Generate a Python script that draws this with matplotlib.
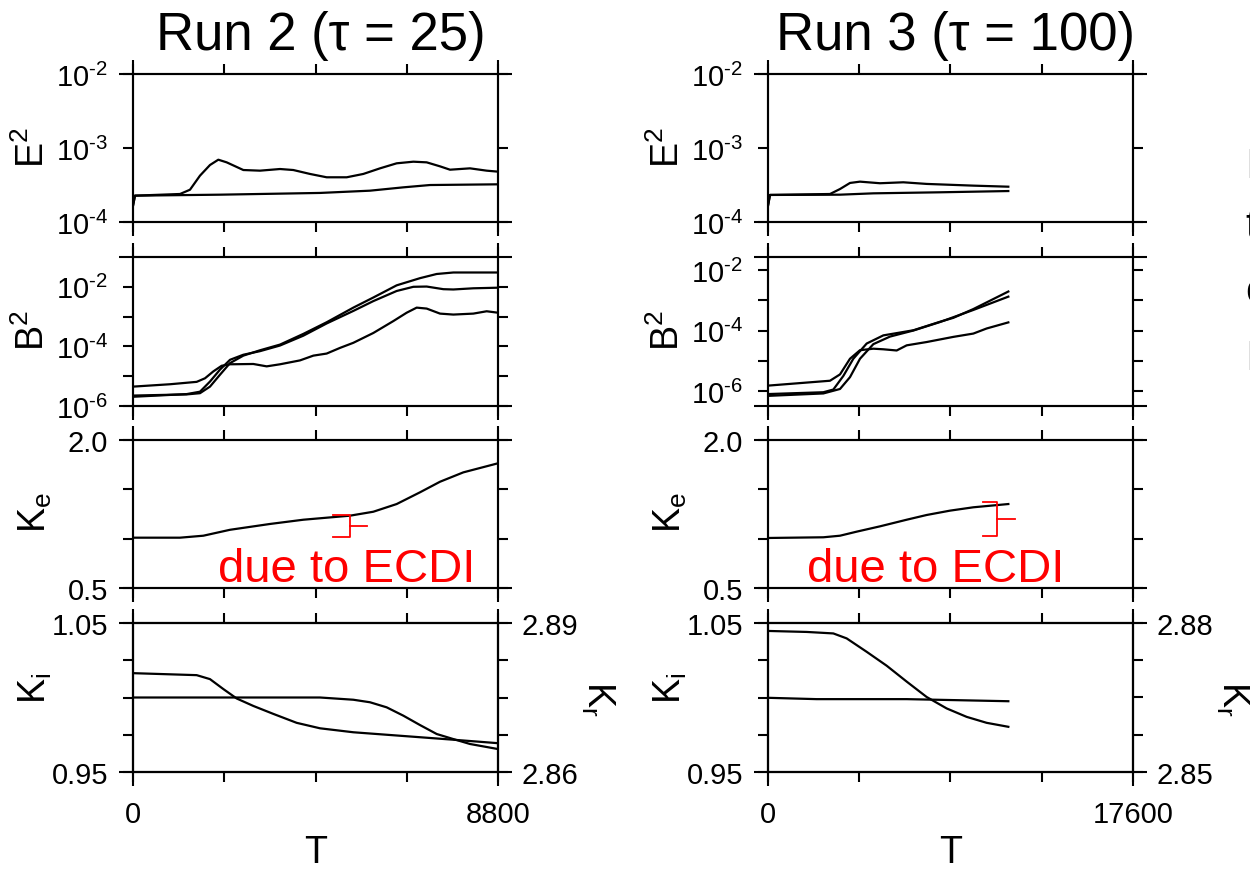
import matplotlib
matplotlib.use('Agg')
import matplotlib.pyplot as plt
from matplotlib.ticker import NullLocator

plt.rcParams['font.family'] = ['Liberation Sans', 'DejaVu Sans']
plt.rcParams['mathtext.fontset'] = 'custom'
plt.rcParams['mathtext.rm'] = 'Liberation Sans'
plt.rcParams['mathtext.it'] = 'Liberation Sans:italic'
plt.rcParams['mathtext.bf'] = 'Liberation Sans:bold'

# ---------------- data ----------------
titles = ['Run 2 (τ = 25)', 'Run 3 (τ = 100)']
t_max = [8800, 17600]
x_ticks = [[0, 2200, 4400, 6600, 8800], [0, 4400, 8800, 13200, 17600]]
x_ticklabels = [['0', '', '', '', '8800'], ['0', '', '', '', '17600']]

e2_ticks = [1e-4, 1e-3, 1e-2]
e2_ticklabels = [r'$\mathregular{10^{\text{-}4}}$', r'$\mathregular{10^{\text{-}3}}$',
                 r'$\mathregular{10^{\text{-}2}}$']
b2_ticks = [1e-6, 1e-5, 1e-4, 1e-3, 1e-2]
b2_ticklabels = [r'$\mathregular{10^{\text{-}6}}$', '', r'$\mathregular{10^{\text{-}4}}$', '',
                 r'$\mathregular{10^{\text{-}2}}$']
b2_limits = [(1e-6, 1e-1), (3.2e-7, 2.7e-2)]
ke_ticks = [0.5, 1.0, 1.5, 2.0]
ke_ticklabels = ['0.5', '', '', '2.0']
ki_ticks = [0.95, 0.975, 1.0, 1.025, 1.05]
ki_ticklabels = ['0.95', '', '', '', '1.05']
kr_limits = [(2.86, 2.89), (2.85, 2.88)]
kr_ticks = [[2.86, 2.8675, 2.875, 2.8825, 2.89], [2.85, 2.8575, 2.865, 2.8725, 2.88]]
kr_ticklabels = [['2.86', '', '', '', '2.89'], ['2.85', '', '', '', '2.88']]

# Run 2 : E^2
r2_e2a_t = [0, 48, 1133, 1374, 1615, 1856, 2057, 2258, 2660, 3062, 3544, 3865, 4267, 4669,
            5152, 5553, 5955, 6357, 6759, 7080, 7402, 7643, 8125, 8527, 8800]
r2_e2a_v = [1.66e-4, 2.27e-4, 2.39e-4, 2.73e-4, 4.23e-4, 5.89e-4, 6.95e-4, 6.40e-4, 5.04e-4,
            4.94e-4, 5.20e-4, 5.04e-4, 4.46e-4, 4.02e-4, 4.02e-4, 4.46e-4, 5.31e-4, 6.21e-4,
            6.53e-4, 6.40e-4, 5.65e-4, 5.09e-4, 5.31e-4, 4.94e-4, 4.79e-4]
r2_e2b_t = [0, 48, 2097, 4508, 5714, 6517, 7161, 8800]
r2_e2b_v = [1.66e-4, 2.27e-4, 2.34e-4, 2.47e-4, 2.65e-4, 2.94e-4, 3.16e-4, 3.23e-4]

# Run 2 : B^2
r2_b2a_t = [0, 892, 1535, 1736, 1937, 2138, 2339, 2901, 3223, 3544, 4026, 4348, 4669, 4991,
            5312, 5794, 6277, 6598, 6839, 7080, 7402, 7723, 8205, 8527, 8800]
r2_b2a_v = [4.47e-6, 5.37e-6, 6.46e-6, 8.51e-6, 1.45e-5, 2.24e-5, 2.51e-5, 2.57e-5, 2.14e-5,
            2.51e-5, 3.39e-5, 4.90e-5, 5.75e-5, 8.91e-5, 1.32e-4, 2.82e-4, 7.08e-4, 1.35e-3,
            2.00e-3, 1.86e-3, 1.26e-3, 1.17e-3, 1.26e-3, 1.51e-3, 1.35e-3]
r2_b2b_t = [0, 1294, 1615, 1856, 2097, 2339, 2660, 3062, 3544, 4107, 4669, 5312, 5794, 6357,
            6759, 7080, 7482, 7723, 8205, 8800]
r2_b2b_v = [2.04e-6, 2.51e-6, 3.02e-6, 6.61e-6, 1.66e-5, 3.55e-5, 5.25e-5, 6.92e-5, 1.07e-4,
            2.29e-4, 5.89e-4, 1.55e-3, 3.31e-3, 7.24e-3, 1.00e-2, 1.02e-2, 8.32e-3, 8.13e-3,
            8.91e-3, 9.33e-3]
r2_b2c_t = [0, 1294, 1615, 1856, 2097, 2339, 2660, 3062, 3544, 4107, 4669, 5312, 5794, 6357,
            6920, 7321, 7723, 8800]
r2_b2c_v = [2.24e-6, 2.45e-6, 2.69e-6, 4.47e-6, 1.12e-5, 2.75e-5, 4.90e-5, 7.41e-5, 1.15e-4,
            2.63e-4, 6.46e-4, 2.00e-3, 4.37e-3, 1.12e-2, 1.95e-2, 2.69e-2, 3.02e-2, 3.02e-2]

# Run 2 : Ke, Ki, Kr
r2_ke_t = [0, 1133, 1696, 2339, 3303, 4106, 5232, 5794, 6357, 6920, 7402, 7964, 8800]
r2_ke_v = [1.01, 1.01, 1.03, 1.09, 1.149, 1.192, 1.233, 1.273, 1.351, 1.47, 1.577, 1.672, 1.764]
r2_ki_t = [0, 4508, 5312, 5714, 6116, 6518, 6920, 7322, 7723, 8125, 8800]
r2_ki_v = [1.0, 1.0, 0.9985, 0.9968, 0.9934, 0.9878, 0.9815, 0.9755, 0.9721, 0.9688, 0.9654]
r2_kr_t = [0, 1535, 1856, 2178, 2500, 2901, 3383, 3946, 4508, 5312, 6116, 6920, 7723, 8800]
r2_kr_v = [2.8799, 2.8795, 2.8787, 2.8767, 2.8748, 2.8733, 2.8717, 2.8699, 2.8688, 2.8680,
           2.8675, 2.8670, 2.8665, 2.8658]

# Run 3 : E^2
r3_e2a_t = [0, 96, 2990, 3472, 3954, 4436, 5400, 6525, 7651, 9900, 11588]
r3_e2a_v = [1.66e-4, 2.32e-4, 2.39e-4, 2.79e-4, 3.37e-4, 3.51e-4, 3.34e-4, 3.44e-4, 3.27e-4,
            3.10e-4, 3.00e-4]
r3_e2b_t = [0, 96, 3472, 5079, 8294, 11588]
r3_e2b_v = [1.66e-4, 2.32e-4, 2.34e-4, 2.44e-4, 2.52e-4, 2.62e-4]

# Run 3 : B^2
r3_b2a_t = [0, 2990, 3472, 3954, 4436, 5079, 5561, 6204, 6687, 7651, 8937, 9901, 10544, 11589]
r3_b2a_v = [1.51e-6, 2.19e-6, 3.55e-6, 1.17e-5, 2.24e-5, 2.51e-5, 2.40e-5, 2.19e-5, 3.24e-5,
            4.17e-5, 6.17e-5, 7.94e-5, 1.17e-4, 1.86e-4]
r3_b2b_t = [0, 2668, 3150, 3633, 4115, 4758, 5561, 7008, 8294, 8937, 9901, 11589]
r3_b2b_v = [7.94e-7, 9.12e-7, 1.12e-6, 3.16e-6, 1.17e-5, 3.72e-5, 6.92e-5, 1.02e-4, 1.95e-4,
            2.63e-4, 5.13e-4, 1.95e-3]
r3_b2c_t = [0, 2668, 3472, 3954, 4436, 5079, 5883, 7008, 8294, 9901, 11589]
r3_b2c_v = [6.92e-7, 8.32e-7, 1.17e-6, 2.88e-6, 1.17e-5, 3.55e-5, 6.31e-5, 1.00e-4, 1.91e-4,
            4.79e-4, 1.32e-3]

# Run 3 : Ke, Ki, Kr
r3_ke_t = [0, 2668, 3472, 4276, 5401, 6687, 7651, 8776, 9901, 11589]
r3_ke_v = [1.007, 1.014, 1.03, 1.071, 1.125, 1.192, 1.24, 1.284, 1.318, 1.351]
r3_ki_t = [0, 2347, 6687, 11589]
r3_ki_v = [0.9998, 0.9989, 0.9989, 0.9975]
r3_kr_t = [0, 1865, 3150, 3793, 4758, 5722, 6687, 7651, 8615, 9580, 10544, 11589]
r3_kr_v = [2.8784, 2.8782, 2.8779, 2.8769, 2.8742, 2.8714, 2.8682, 2.8651, 2.8628, 2.8611,
           2.8599, 2.8591]

annotation_text = 'due to ECDI'
# brace: (x_left, x_vertical, x_tip, y_top, y_mid, y_bottom), text position (x, y)
braces = [(4822, 5232, 5641, 1.240, 1.128, 1.017), (10367, 11042, 11910, 1.367, 1.199, 1.03)]
ann_pos = [(2049, 0.571), (1881, 0.571)]

runs = [
    dict(e2=[(r2_e2a_t, r2_e2a_v), (r2_e2b_t, r2_e2b_v)],
         b2=[(r2_b2a_t, r2_b2a_v), (r2_b2b_t, r2_b2b_v), (r2_b2c_t, r2_b2c_v)],
         ke=(r2_ke_t, r2_ke_v), ki=(r2_ki_t, r2_ki_v), kr=(r2_kr_t, r2_kr_v)),
    dict(e2=[(r3_e2a_t, r3_e2a_v), (r3_e2b_t, r3_e2b_v)],
         b2=[(r3_b2a_t, r3_b2a_v), (r3_b2b_t, r3_b2b_v), (r3_b2c_t, r3_b2c_v)],
         ke=(r3_ke_t, r3_ke_v), ki=(r3_ki_t, r3_ki_v), kr=(r3_kr_t, r3_kr_v)),
]

# ---------------- layout ----------------
W, H = 1250, 870
fig = plt.figure(figsize=(W / 100, H / 100), dpi=100)
col_left = [133, 768]
ax_w = 365
rows = [(75, 223), (258, 407), (441, 589), (624, 773)]
LW = 1.5
CURVE_LW = 1.6
TICK_FS = 21
LABEL_FS = 27


def fx(px):
    return px / W


def fy(py):
    return 1 - py / H


def make_axes(x0, y0, y1):
    return fig.add_axes([fx(x0), fy(y1), ax_w / W, (y1 - y0) / H])


def style(ax, h_px, right_ticks=True):
    for s in ax.spines.values():
        s.set_linewidth(LW)
    ax.tick_params(axis='both', which='both', direction='out', length=7, width=LW,
                   labelsize=TICK_FS, top=True, right=right_ticks)
    ax.tick_params(axis='y', pad=11)
    ex = 14 / ax_w
    ey = 14 / h_px
    for yy in (0, 1):
        ax.plot([-ex, 1 + ex], [yy, yy], transform=ax.transAxes, color='k', lw=LW,
                clip_on=False, solid_capstyle='butt')
    for xx in (0, 1):
        ax.plot([xx, xx], [-ey, 1 + ey], transform=ax.transAxes, color='k', lw=LW,
                clip_on=False, solid_capstyle='butt')


for c in range(2):
    x0 = col_left[c]
    d = runs[c]
    tm = t_max[c]
    axes = []
    for r, (y0, y1) in enumerate(rows):
        ax = make_axes(x0, y0, y1)
        axes.append(ax)
        ax.set_xlim(0, tm)
        ax.set_xticks(x_ticks[c])
        ax.xaxis.set_minor_locator(NullLocator())

    ax_e, ax_b, ax_k, ax_i = axes
    # E^2
    for t, v in d['e2']:
        ax_e.plot(t, v, color='k', lw=CURVE_LW)
    ax_e.set_yscale('log')
    ax_e.set_ylim(1e-4, 1e-2)
    ax_e.set_yticks(e2_ticks)
    ax_e.set_yticklabels(e2_ticklabels)
    ax_e.yaxis.set_minor_locator(NullLocator())
    # B^2
    for t, v in d['b2']:
        ax_b.plot(t, v, color='k', lw=CURVE_LW)
    ax_b.set_yscale('log')
    ax_b.set_ylim(*b2_limits[c])
    ax_b.set_yticks(b2_ticks)
    ax_b.set_yticklabels(b2_ticklabels)
    ax_b.yaxis.set_minor_locator(NullLocator())
    # Ke
    ax_k.plot(*d['ke'], color='k', lw=CURVE_LW)
    ax_k.set_ylim(0.5, 2.0)
    ax_k.set_yticks(ke_ticks)
    ax_k.set_yticklabels(ke_ticklabels)
    # Ki / Kr
    ax_i.plot(*d['ki'], color='k', lw=CURVE_LW)
    ax_i.set_ylim(0.95, 1.05)
    ax_i.set_yticks(ki_ticks)
    ax_i.set_yticklabels(ki_ticklabels)
    ax_r = ax_i.twinx()
    ax_r.plot(*d['kr'], color='k', lw=CURVE_LW)
    ax_r.set_ylim(*kr_limits[c])
    ax_r.set_yticks(kr_ticks[c])
    ax_r.set_yticklabels(kr_ticklabels[c])
    ax_r.tick_params(axis='y', direction='out', length=7, width=LW, labelsize=TICK_FS, pad=10)
    ax_r.tick_params(axis='x', which='both', bottom=False, top=False, labelbottom=False)
    for s in ax_r.spines.values():
        s.set_linewidth(LW)

    for r, ax in enumerate(axes):
        style(ax, rows[r][1] - rows[r][0], right_ticks=(r != 3))
        if r == 3:
            ax.set_xticklabels(x_ticklabels[c])
            ax.tick_params(axis='x', pad=13)
        else:
            ax.tick_params(axis='x', labelbottom=False)
    ax_i.tick_params(axis='y', right=False)

    # annotation
    xl, xv, xt, yt, ym, yb = braces[c]
    ax_k.plot([xl, xv, xv, xl], [yt, yt, yb, yb], color='#ff0000', lw=1.3, clip_on=False)
    ax_k.plot([xv, xt], [ym, ym], color='#ff0000', lw=1.3, clip_on=False)
    ax_k.text(ann_pos[c][0], ann_pos[c][1], annotation_text, color='#ff0000', fontsize=34,
              ha='left', va='baseline')

    # titles and labels
    cx = x0 + ax_w / 2
    fig.text(fx(cx + 5), fy(50), titles[c], fontsize=38, ha='center', va='baseline')
    off = x0 - 133
    fig.text(fx(33 + off), fy(148), r'$\mathregular{E^2}$', fontsize=LABEL_FS, rotation=90,
             ha='center', va='center')
    fig.text(fx(33 + off), fy(331), r'$\mathregular{B^2}$', fontsize=LABEL_FS, rotation=90,
             ha='center', va='center')
    fig.text(fx(35 + off), fy(513), r'$\mathregular{K_e}$', fontsize=LABEL_FS, rotation=90,
             ha='center', va='center')
    fig.text(fx(35 + off), fy(688), r'$\mathregular{K_i}$', fontsize=LABEL_FS, rotation=90,
             ha='center', va='center')
    fig.text(fx(x0 + ax_w + 100), fy(699), r'$\mathregular{K_r}$', fontsize=LABEL_FS,
             rotation=270, ha='center', va='center')
    fig.text(fx(cx), fy(863), 'T', fontsize=LABEL_FS, ha='center', va='baseline')

# partially visible text at the right edge
for s, yb in [('I', 178), ('t', 238), ('c', 303), ('I', 370)]:
    fig.text(fx(1245), fy(yb), s, fontsize=30, ha='left', va='baseline')

fig.savefig('out.png', dpi=100)
